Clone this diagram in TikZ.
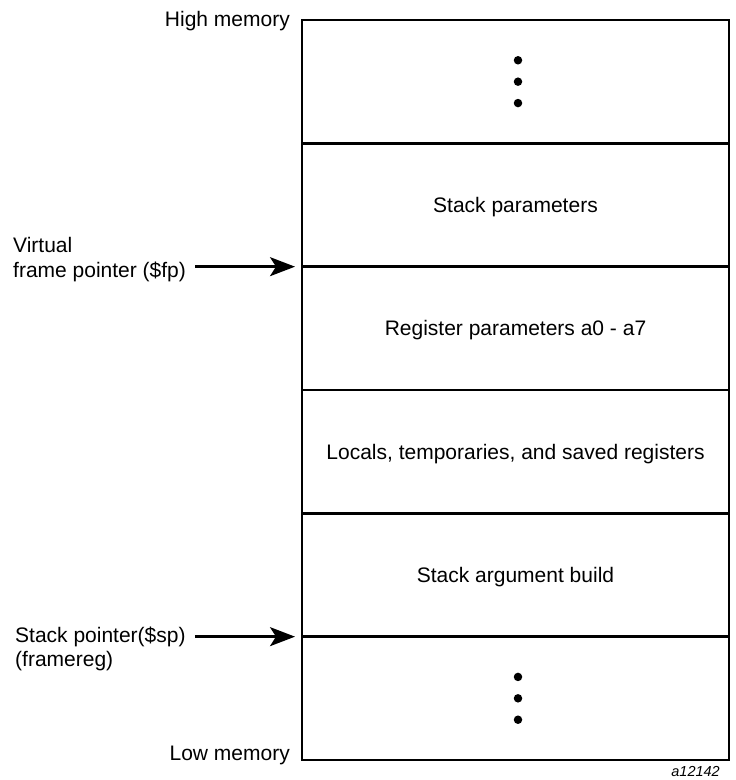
\documentclass[tikz,border=0pt]{standalone}
\usepackage{fontspec}
\setmainfont{Liberation Sans}
\usetikzlibrary{positioning,arrows.meta}

\begin{document}
\begin{tikzpicture}
        [x=1pt, y=-1pt,
        font=\fontsize{21}{24}\selectfont,
        slot/.style={draw=black, line width=2.6pt, minimum width=427pt,
            minimum height=123.33pt, outer sep=0pt, inner sep=0pt,
            text height=15pt, text depth=0pt},
        lbl/.style={inner sep=0pt},
        ptr/.style={-{Stealth[length=25pt, width=19pt, inset=6pt]}, line width=2.4pt},
        dot/.style={circle, fill=black, inner sep=0pt, minimum size=8.5pt}]
        \useasboundingbox (0,0) rectangle (736,780);
        % memory slots, top to bottom
        \node [slot] (top) at (515.5,81.67) {};
        \node [slot, below=0pt of top] (stackparams) {Stack parameters};
        \node [slot, below=0pt of stackparams] (regparams) {Register parameters a0 - a7};
        \node [slot, below=0pt of regparams] (locals) {Locals, temporaries, and saved registers};
        \node [slot, below=0pt of locals] (argbuild) {Stack argument build};
        \node [slot, below=0pt of argbuild] (bottom) {};
        % continuation dots
        \node [dot] (topdot2) at ([xshift=2.5pt]top.center) {};
        \node [dot, above=12.5pt of topdot2] (topdot1) {};
        \node [dot, below=12.5pt of topdot2] (topdot3) {};
        \node [dot] (botdot2) at ([xshift=2.5pt]bottom.center) {};
        \node [dot, above=12.5pt of botdot2] (botdot1) {};
        \node [dot, below=12.5pt of botdot2] (botdot3) {};
        % labels on the left
        \node [lbl, anchor=base east] (high) at (290,26) {High memory};
        \node [lbl, anchor=base east] (low) at (290,760) {Low memory};
        \node [lbl, anchor=base west] (virtual) at (13,252) {Virtual};
        \node [lbl, anchor=base west] (fpname) at (13,277) {frame pointer (\$fp)};
        \node [lbl, anchor=base west] (spname) at (15,642) {Stack pointer(\$sp)};
        \node [lbl, anchor=base west] (framereg) at (15,666) {(framereg)};
        \node [lbl, anchor=base east, font=\fontsize{14.5}{17}\selectfont\itshape] (figno) at (720,776) {a12142};
        % pointers
        \draw [ptr, shorten <=9pt, shorten >=7pt] (fpname.east |- stackparams.south) -- (stackparams.south west);
        \draw [ptr, shorten <=9pt, shorten >=7pt] (spname.east |- argbuild.south) -- (argbuild.south west);
\end{tikzpicture}
\end{document}
